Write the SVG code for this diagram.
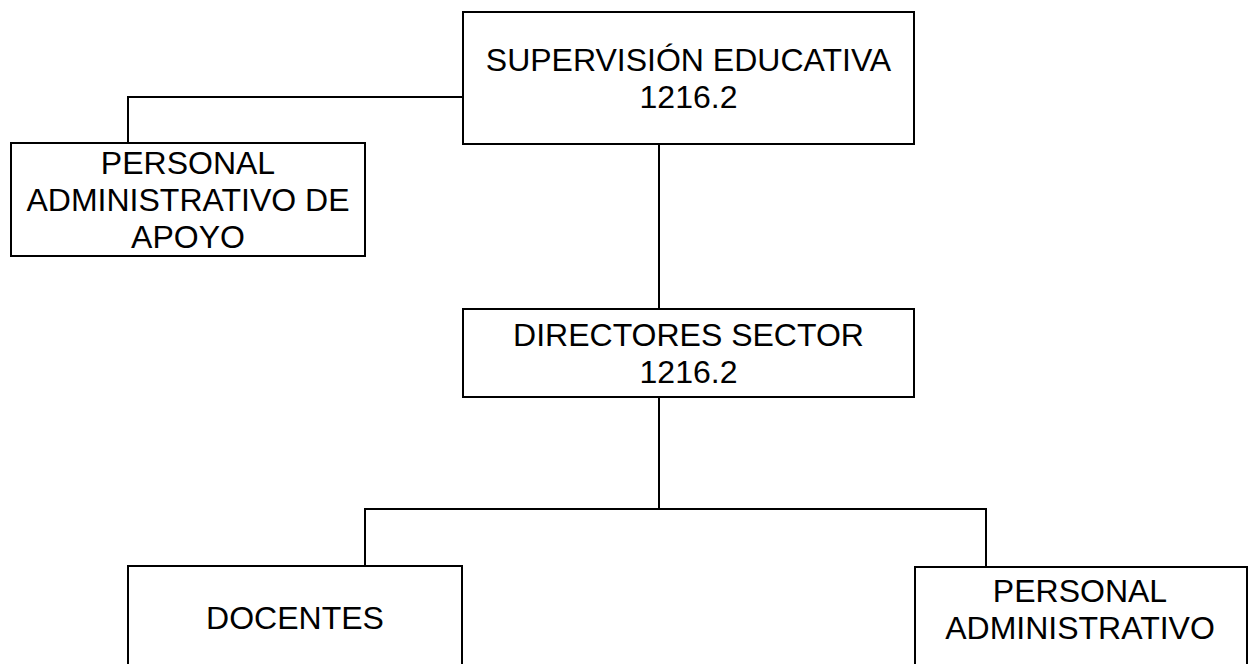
<svg xmlns="http://www.w3.org/2000/svg" width="1251" height="664" viewBox="0 0 1251 664">
<style>
.box{fill:#fff;stroke:#000;stroke-width:2}
.ln{fill:none;stroke:#000;stroke-width:2}
text{font-family:"Liberation Sans",Arial,sans-serif;font-size:32px;fill:#000;text-anchor:middle}
</style>
<rect width="1251" height="664" fill="#fff"/>
<g id="connectors">
<polyline class="ln" points="463,97 128,97 128,143"/>
<line class="ln" x1="659" y1="144" x2="659" y2="309"/>
<line class="ln" x1="659" y1="397" x2="659" y2="509"/>
<polyline class="ln" points="365,566 365,509 986,509 986,567"/>
</g>
<g id="supervision">
<rect class="box" x="463" y="12" width="451" height="132"/>
<text x="688.5" y="71">SUPERVISIÓN EDUCATIVA</text>
<text x="688.5" y="108">1216.2</text>
</g>
<g id="personal-apoyo">
<rect class="box" x="11" y="143" width="354" height="113"/>
<text x="188" y="174">PERSONAL</text>
<text x="188" y="211">ADMINISTRATIVO DE</text>
<text x="188" y="248">APOYO</text>
</g>
<g id="directores">
<rect class="box" x="463" y="309" width="451" height="88"/>
<text x="688.5" y="346">DIRECTORES SECTOR</text>
<text x="688.5" y="383">1216.2</text>
</g>
<g id="docentes">
<rect class="box" x="128" y="566" width="334" height="120"/>
<text x="295" y="629">DOCENTES</text>
</g>
<g id="personal-administrativo">
<rect class="box" x="915" y="567" width="332" height="120"/>
<text x="1080" y="602">PERSONAL</text>
<text x="1080" y="639">ADMINISTRATIVO</text>
</g>
</svg>
